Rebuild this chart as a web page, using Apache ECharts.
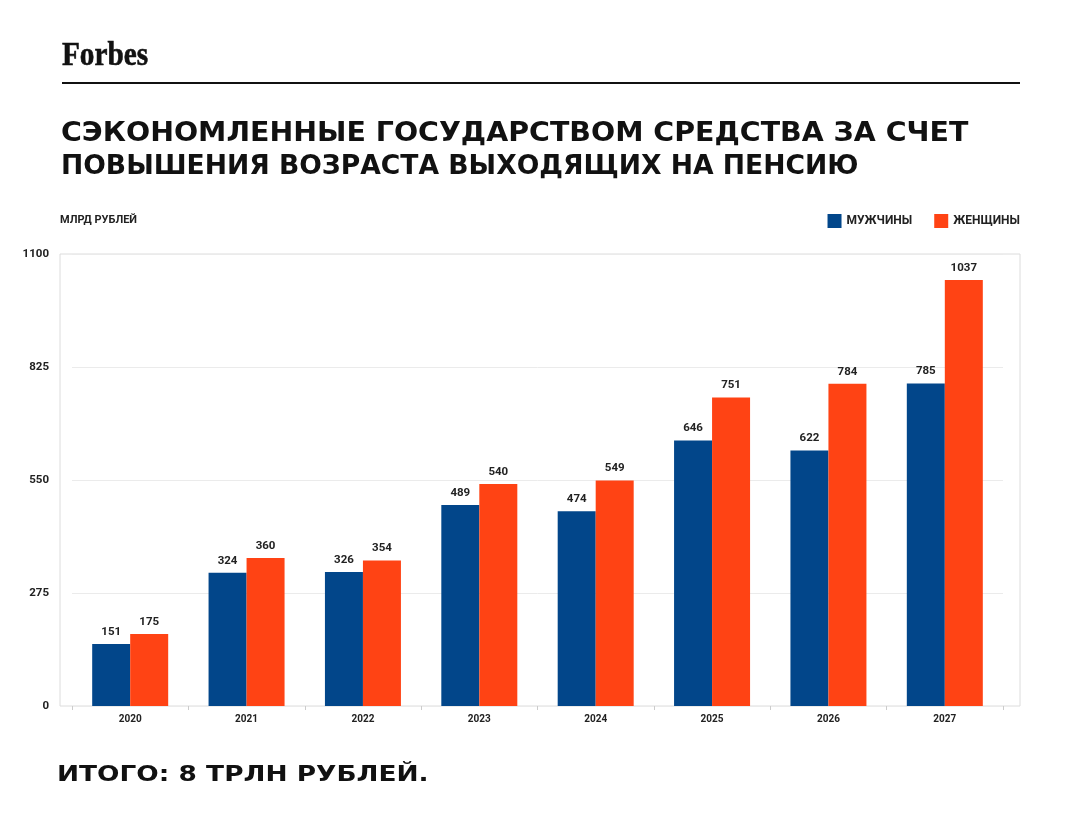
<!DOCTYPE html>
<html><head><meta charset="utf-8">
<script src="https://cdn.jsdelivr.net/npm/echarts@6/dist/echarts.min.js"></script>
<style>html,body{margin:0;padding:0;background:#fff}#c{width:1082px;height:837px}</style>
</head><body><div id="c"></div>
<script>
const years = ['2020','2021','2022','2023','2024','2025','2026','2027'];
const men = [151, 324, 326, 489, 474, 646, 622, 785];
const women = [175, 360, 354, 540, 549, 751, 784, 1037];
const seriesNames = ['МУЖЧИНЫ', 'ЖЕНЩИНЫ'];
const yTicks = [0, 275, 550, 825, 1100];
const titleLines = ['СЭКОНОМЛЕННЫЕ ГОСУДАРСТВОМ СРЕДСТВА ЗА СЧЕТ', 'ПОВЫШЕНИЯ ВОЗРАСТА ВЫХОДЯЩИХ НА ПЕНСИЮ'];
const unitLabel = 'МЛРД РУБЛЕЙ';
const footer = 'ИТОГО: 8 ТРЛН РУБЛЕЙ.';
const brand = 'Forbes';

const BLUE = '#02468A', ORANGE = '#FF4314';
const chart = echarts.init(document.getElementById('c'), null, {renderer:'canvas'});
const lbl = {show:true, position:'top', distance:6, color:'#222', fontSize:11.5, fontWeight:'bold', fontFamily:'Roboto'};
chart.setOption({
  animation:false,
  backgroundColor:'#fff',
  grid:[
    {left:72, right:79, top:254, bottom:131, containLabel:false},
    {left:60, right:62, top:254, bottom:131, show:true, borderColor:'#dcdcdc', borderWidth:1, z:0}
  ],
  legend:{
    data:seriesNames, right:62, top:214, padding:0, itemWidth:14, itemHeight:14, itemGap:22,
    icon:'rect',
    textStyle:{fontFamily:'Roboto', fontSize:12, fontWeight:'bold', color:'#222'}
  },
  xAxis:[
    {type:'category', gridIndex:0, data:years, boundaryGap:true,
     axisLine:{show:false},
     axisTick:{show:true, length:4, lineStyle:{color:'#ccc'}},
     axisLabel:{color:'#222', fontSize:10, fontWeight:'bold', fontFamily:'Roboto', margin:8}},
    {type:'value', gridIndex:1, show:false, min:0, max:1}
  ],
  yAxis:[
    {type:'value', gridIndex:0, min:yTicks[0], max:yTicks[yTicks.length-1], interval:275,
     axisLine:{show:false}, axisTick:{show:false},
     splitLine:{lineStyle:{color:'#ebebeb'}},
     axisLabel:{color:'#222', fontSize:11.5, fontWeight:'bold', fontFamily:'Roboto', margin:23,
       formatter:function(v){return String(v);}}},
    {type:'value', gridIndex:1, show:false, min:0, max:1}
  ],
  series:[
    {name:seriesNames[0], type:'bar', data:men, barWidth:38, barGap:'0%', itemStyle:{color:BLUE}, label:lbl, xAxisIndex:0, yAxisIndex:0},
    {name:seriesNames[1], type:'bar', data:women, barWidth:38, barGap:'0%', itemStyle:{color:ORANGE}, label:lbl, xAxisIndex:0, yAxisIndex:0}
  ],
  graphic:[
    {type:'text', x:62, y:39, scaleX:0.86, style:{text:brand, font:'bold 34px "Liberation Serif"', fill:'#111', stroke:'#111', lineWidth:0.6}},
    {type:'rect', shape:{x:62, y:82, width:958, height:2}, style:{fill:'#111'}},
    {type:'text', x:61, y:120, scaleX:1.053, style:{text:titleLines[0], font:'900 27px "DejaVu Sans"', fill:'#111'}},
    {type:'text', x:61, y:153, scaleX:0.985, style:{text:titleLines[1], font:'900 27px "DejaVu Sans"', fill:'#111'}},
    {type:'text', x:60, y:215, style:{text:unitLabel, font:'bold 11px Roboto', fill:'#222'}},
    {type:'text', x:57, y:764, scaleX:1.2, style:{text:footer, font:'900 22px "DejaVu Sans"', fill:'#111'}}
  ]
});
</script></body></html>
